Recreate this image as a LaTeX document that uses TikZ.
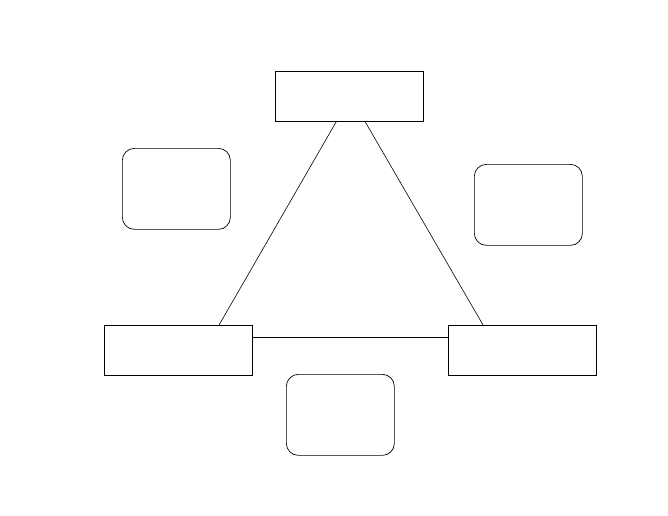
\documentclass[tikz,border=0pt]{standalone}
\begin{document}
\begin{tikzpicture}[x=1pt,y=-1pt,
  rectbox/.style={draw, line width=0.7pt, minimum width=148pt, minimum height=49.5pt, inner sep=0pt, anchor=north west},
  roundbox/.style={draw, line width=0.7pt, rounded corners=12pt, minimum width=108pt, minimum height=81pt, inner sep=0pt, anchor=north west},
  conn/.style={draw, line width=0.6pt}]
\useasboundingbox (0,0) rectangle (668,515);
\node[rectbox] (top) at (275,71) {};
\node[rectbox] (left) at (104,325) {};
\node[rectbox] (right) at (448,325) {};
\node[roundbox] (rl) at (122,148) {};
\node[roundbox] (rr) at (474,164) {};
\node[roundbox] (rb) at (286,374) {};
\draw[conn] ([xshift=-12.8pt]top.south) -- ([xshift=40.7pt]left.north);
\draw[conn] ([xshift=15.5pt]top.south) -- ([xshift=-39.3pt]right.north);
\draw[conn] ([yshift=12.5pt]left.east) -- ([yshift=12.5pt]right.west);
\end{tikzpicture}
\end{document}
